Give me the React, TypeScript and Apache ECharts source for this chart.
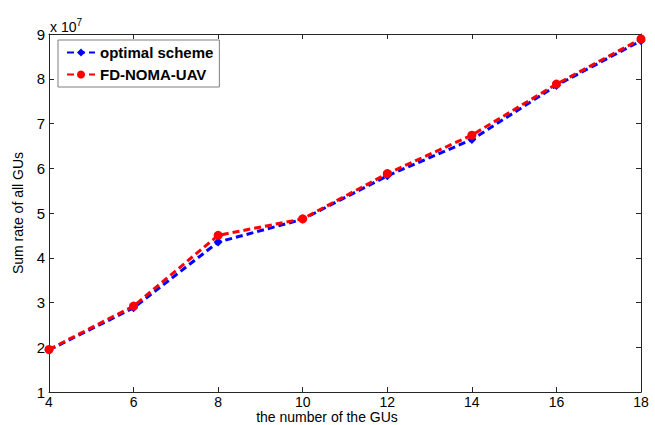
import React, { useEffect, useRef } from "react";
import * as echarts from "echarts";

const categories = [4, 6, 8, 10, 12, 14, 16, 18];
const optimalScheme = [1.94, 2.88, 4.35, 4.86, 5.83, 6.64, 7.85, 8.85];
const fdNomaUav = [1.95, 2.92, 4.5, 4.87, 5.88, 6.74, 7.88, 8.89];
const yTicks = [1, 2, 3, 4, 5, 6, 7, 8, 9];

export default function App() {
  const ref = useRef<HTMLDivElement>(null);
  useEffect(() => {
    document.body.style.margin = "0";
    const chart = echarts.init(ref.current!, null, { renderer: "svg" });
    const font = "'Liberation Sans', Arial, sans-serif";
    const axisLine = { show: true, lineStyle: { color: "#262626", width: 1 } };
    const scale = 1e7;
    chart.setOption({
      animation: false,
      backgroundColor: "#ffffff",
      grid: { left: 49, top: 34, right: 14, bottom: 33 },
      legend: {
        left: 58,
        top: 40,
        orient: "vertical",
        backgroundColor: "#ffffff",
        borderColor: "#7f7f7f",
        borderWidth: 1,
        borderRadius: 0,
        padding: [5, 6, 5, 8],
        itemWidth: 28,
        itemHeight: 10,
        itemGap: 7,
        textStyle: { fontFamily: font, fontSize: 15, fontWeight: "bold", color: "#000" },
        data: ["optimal scheme", "FD-NOMA-UAV"],
      },
      xAxis: [
        {
          type: "value",
          min: 4,
          max: 18,
          interval: 2,
          position: "bottom",
          axisLine,
          axisTick: { show: true, inside: true, length: 5, lineStyle: { color: "#262626" } },
          axisLabel: { fontFamily: font, fontSize: 14, lineHeight: 12, color: "#000", margin: 4 },
          splitLine: { show: false },
        },
        {
          type: "value",
          min: 4,
          max: 18,
          interval: 2,
          position: "top",
          axisLine,
          axisTick: { show: true, inside: true, length: 5, lineStyle: { color: "#262626" } },
          axisLabel: { show: false },
          splitLine: { show: false },
        },
      ],
      yAxis: [
        {
          type: "value",
          min: yTicks[0] * scale,
          max: yTicks[yTicks.length - 1] * scale,
          interval: scale,
          position: "left",
          axisLine,
          axisTick: { show: true, inside: true, length: 5, lineStyle: { color: "#262626" } },
          axisLabel: {
            fontFamily: font,
            fontSize: 15,
            color: "#000",
            margin: 4,
            formatter: (v: number) => String(Math.round(v / scale)),
          },
          splitLine: { show: false },
          name: "Sum rate of all GUs",
          nameLocation: "middle",
          nameGap: 24,
          nameTextStyle: { fontFamily: font, fontSize: 14, color: "#000" },
        },
        {
          type: "value",
          min: yTicks[0] * scale,
          max: yTicks[yTicks.length - 1] * scale,
          interval: scale,
          position: "right",
          axisLine,
          axisTick: { show: true, inside: true, length: 5, lineStyle: { color: "#262626" } },
          axisLabel: { show: false },
          splitLine: { show: false },
        },
      ],
      graphic: [
        {
          type: "text",
          left: 50,
          top: 17,
          style: {
            text: "x 10{sup|7}",
            fontFamily: font,
            fontSize: 14,
            fill: "#000",
            rich: { sup: { fontSize: 10, fontFamily: font, verticalAlign: "top", padding: [0, 0, 10, 0] } },
          },
        },
        {
          type: "text",
          x: 327,
          y: 417,
          style: {
            text: "the number of the GUs",
            fontFamily: font,
            fontSize: 14,
            lineHeight: 12,
            fill: "#000",
            align: "center",
            verticalAlign: "middle",
          },
        },
      ],
      series: [
        {
          name: "optimal scheme",
          type: "line",
          data: categories.map((c, i) => [c, optimalScheme[i] * scale]),
          symbol: "diamond",
          symbolSize: 9,
          itemStyle: { color: "#0000ff" },
          lineStyle: { color: "#0000ff", width: 3, type: [7, 4] },
          z: 2,
        },
        {
          name: "FD-NOMA-UAV",
          type: "line",
          data: categories.map((c, i) => [c, fdNomaUav[i] * scale]),
          symbol: "circle",
          symbolSize: 9,
          itemStyle: { color: "#ff0000" },
          lineStyle: { color: "#ff0000", width: 3, type: [7, 4] },
          z: 3,
        },
      ],
    });
    return () => chart.dispose();
  }, []);
  return <div ref={ref} style={{ width: 655, height: 425 }} />;
}
